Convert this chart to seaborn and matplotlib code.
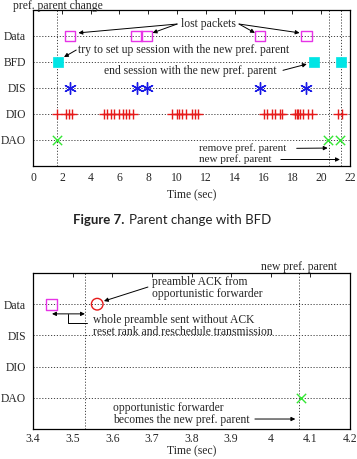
import matplotlib
matplotlib.use("Agg")
import matplotlib.pyplot as plt
import seaborn as sns
import pandas as pd

sns.set_theme(style="white")
plt.rcParams['font.family'] = ['Liberation Serif', 'DejaVu Serif']
FS = 8.4
plt.rcParams['font.size'] = FS

# ---------- data: top chart ----------
rows_top = ["DAO", "DIO", "DIS", "BFD", "Data"]
data_t = [2.57, 7.2, 7.9, 15.76, 18.96]
bfd_t = [1.76, 19.5, 21.4]
dis_t = [2.57, 7.25, 7.9, 15.76, 18.96]
dio_t = [1.64, 2.27, 2.5, 2.73,
         4.93, 5.16, 5.4, 5.63, 6.0, 6.23, 6.46, 6.69, 6.92,
         9.63, 9.98, 10.16, 10.37, 10.63, 11.02, 11.25, 11.48,
         16.0, 16.27, 16.57, 16.8, 17.15, 17.27,
         18.2, 18.3, 18.4, 18.5, 18.77, 19.1, 19.35,
         21.2, 21.43]
dao_t = [1.7, 20.5, 21.3]
vlines_top = [1.7, 20.55, 21.35]
xticks_top = list(range(0, 23, 2))

# ---------- data: bottom chart ----------
rows_bot = ["DAO", "DIO", "DIS", "Data"]
bot_data_t = [3.447]
bot_ack_t = [3.562]
bot_dao_t = [4.077]
vlines_bot = [3.531, 4.072]
xticks_bot = [3.4, 3.5, 3.6, 3.7, 3.8, 3.9, 4.0, 4.1, 4.2]
xticklabels_bot = ["3.4", "3.5", "3.6", "3.7", "3.8", "3.9", "4", "4.1", "4.2"]

W, H = 357, 459
fig = plt.figure(figsize=(W / 100, H / 100), dpi=100)

def px_axes(l, t, r, b):
    return fig.add_axes([l / W, 1 - b / H, (r - l) / W, (b - t) / H])

ax1 = px_axes(33, 10, 350, 166)
ax2 = px_axes(33, 273, 350, 429)

magenta = "#e633e6"
cyan = "#00e5e5"
blue = "#1a1ae6"
red = "#e61a1a"
green = "#33e633"
grid_kw = dict(color="#444444", linestyle=(0, (1.2, 1.8)), linewidth=0.7, zorder=1)

def ypos(rows, name):
    return rows.index(name) + 1

def series(ts, rows, name):
    return pd.DataFrame({"t": ts, "y": [ypos(rows, name)] * len(ts)})

# ---------- top chart ----------
for i in range(len(rows_top)):
    ax1.axhline(i + 1, **grid_kw)
for v in vlines_top:
    ax1.axvline(v, **grid_kw)

sns.scatterplot(data=series(dio_t, rows_top, "DIO"), x="t", y="y", ax=ax1,
                marker="+", s=60, color=red, linewidth=1.0, zorder=3, legend=False)
sns.scatterplot(data=series(dis_t, rows_top, "DIS"), x="t", y="y", ax=ax1,
                marker=(6, 2, 0), s=70, color=blue, linewidth=1.0, zorder=3, legend=False)
sns.scatterplot(data=series(dao_t, rows_top, "DAO"), x="t", y="y", ax=ax1,
                marker="x", s=45, color=green, linewidth=1.0, zorder=3, legend=False)
sns.scatterplot(data=series(bfd_t, rows_top, "BFD"), x="t", y="y", ax=ax1,
                marker="s", s=55, color=cyan, edgecolor=cyan, linewidth=0.5, zorder=3, legend=False)
sns.scatterplot(data=series(data_t, rows_top, "Data"), x="t", y="y", ax=ax1,
                marker="s", s=60, facecolor="none", edgecolor=magenta, linewidth=1.0,
                zorder=3, legend=False)

ax1.set_xlim(0, 22)
ax1.set_ylim(0, 6)
ax1.set_xticks(xticks_top)
ax1.set_xticklabels([str(v) for v in xticks_top])
ax1.set_yticks(range(1, len(rows_top) + 1))
ax1.set_yticklabels(rows_top)
ax1.set_xlabel("Time (sec)", labelpad=4, fontsize=FS)
ax1.set_ylabel("")

arr = dict(arrowstyle="-|>", color="black", lw=0.7, mutation_scale=6, shrinkA=0, shrinkB=0)

ax1.text(12.2, 5.46, "lost packets", ha="center", va="center")
for (x0, x1) in [(10.0, 3.15), (10.0, 8.3)]:
    ax1.annotate("", xy=(x1, 5.12), xytext=(x0, 5.46), arrowprops=arr)
for (x0, x1) in [(14.3, 15.4), (14.3, 18.5)]:
    ax1.annotate("", xy=(x1, 5.12), xytext=(x0, 5.46), arrowprops=arr)
ax1.text(3.1, 4.46, "try to set up session with the new pref. parent", ha="left", va="center")
ax1.annotate("", xy=(2.15, 4.19), xytext=(3.0, 4.46), arrowprops=arr)
ax1.text(4.93, 3.65, "end session with the new pref. parent", ha="left", va="center")
ax1.annotate("", xy=(19.0, 3.92), xytext=(17.35, 3.68), arrowprops=arr)
ax1.text(11.53, 0.68, "remove pref. parent", ha="left", va="center", fontsize=8.0)
ax1.annotate("", xy=(20.45, 0.69), xytext=(18.3, 0.68), arrowprops=arr)
ax1.text(11.53, 0.25, "new pref. parent", ha="left", va="center", fontsize=8.0)
ax1.annotate("", xy=(21.3, 0.25), xytext=(17.2, 0.25), arrowprops=arr)
fig.text(57.5 / W, 1.0, "pref. parent change", ha="center", va="top")

# ---------- bottom chart ----------
for i in range(len(rows_bot)):
    ax2.axhline(i + 1, **grid_kw)
for v in vlines_bot:
    ax2.axvline(v, **grid_kw)

sns.scatterplot(data=series(bot_data_t, rows_bot, "Data"), x="t", y="y", ax=ax2,
                marker="s", s=60, facecolor="none", edgecolor=magenta, linewidth=1.0,
                zorder=3, legend=False)
sns.scatterplot(data=series(bot_ack_t, rows_bot, "Data"), x="t", y="y", ax=ax2,
                marker="o", s=70, facecolor="none", edgecolor=red, linewidth=1.0,
                zorder=3, legend=False)
sns.scatterplot(data=series(bot_dao_t, rows_bot, "DAO"), x="t", y="y", ax=ax2,
                marker="x", s=45, color=green, linewidth=1.0, zorder=3, legend=False)

ax2.set_xlim(3.4, 4.2)
ax2.set_ylim(0, 5)
ax2.set_xticks(xticks_bot)
ax2.set_xticklabels(xticklabels_bot)
ax2.set_yticks(range(1, len(rows_bot) + 1))
ax2.set_yticklabels(rows_bot)
ax2.set_xlabel("Time (sec)", labelpad=0, fontsize=FS)
ax2.set_ylabel("")

ax2.text(3.70, 4.52, "preamble ACK from\nopportunistic forwarder", ha="left", va="center",
         linespacing=0.95)
ax2.annotate("", xy=(3.579, 4.10), xytext=(3.69, 4.55), arrowprops=arr)
ax2.text(3.551, 3.31, "whole preamble sent without ACK\nreset rank and reschedule transmission",
         ha="left", va="center", linespacing=0.95)
ax2.annotate("", xy=(3.448, 3.69), xytext=(3.531, 3.69),
             arrowprops=dict(arrowstyle="<|-|>", color="black", lw=0.7, mutation_scale=6,
                             shrinkA=0, shrinkB=0))
ax2.plot([3.488, 3.488, 3.536], [3.69, 3.40, 3.40], color="black", lw=0.7)
ax2.text(4.072, 5.19, "new pref. parent", ha="center", va="center", clip_on=False)
ax2.text(3.602, 0.48, "opportunistic forwarder\nbecomes the new pref. parent", ha="left",
         va="center", linespacing=0.95)
ax2.annotate("", xy=(4.062, 0.32), xytext=(3.96, 0.32), arrowprops=arr)

for ax in (ax1, ax2):
    for sp in ax.spines.values():
        sp.set_color("black")
        sp.set_linewidth(0.9)
    ax.tick_params(axis="both", direction="in", length=3, width=0.6, color="black",
                   labelsize=FS, pad=4, top=True, right=True)
    ax.tick_params(axis="y", length=0, pad=5)
ax2.tick_params(axis="x", pad=3)

# ---------- caption ----------
renderer = fig.canvas.get_renderer()
t1 = fig.text(73 / W, 1 - 220 / H, "Figure 7.", ha="left", va="center",
              family=["Lato", "DejaVu Sans"], fontweight="bold", fontsize=9.5, color="#222222")
bb = t1.get_window_extent(renderer)
fig.text((bb.x1 + 5) / W, 1 - 220 / H, "Parent change with BFD", ha="left", va="center",
         family=["Lato", "DejaVu Sans"], fontsize=9.5, color="#222222")

fig.savefig("out.png", dpi=100)
